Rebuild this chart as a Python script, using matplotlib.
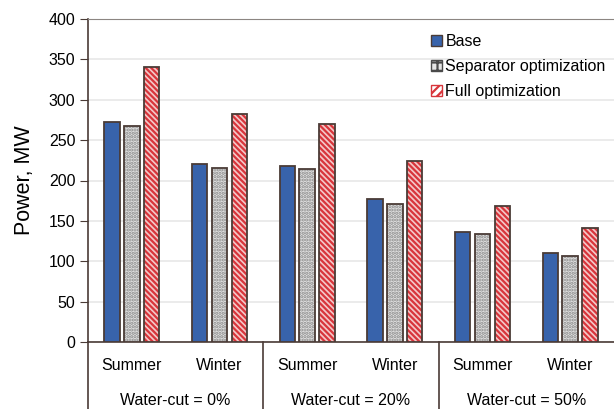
import matplotlib.pyplot as plt
import matplotlib.transforms as mtransforms
from matplotlib.patches import Patch
import numpy as np

plt.rcParams['font.family'] = ['Liberation Sans', 'DejaVu Sans']
plt.rcParams['hatch.linewidth'] = 1.6

seasons = ["Summer", "Winter", "Summer", "Winter", "Summer", "Winter"]
groups = ["Water-cut = 0%", "Water-cut = 20%", "Water-cut = 50%"]
base = [272, 221, 218, 177, 136, 110]
separator = [268, 215, 214, 171, 134, 107]
full = [341, 282, 270, 224, 168, 141]

edge = '#4a3b36'
fig = plt.figure(figsize=(6.14, 4.09), dpi=100)
ax = fig.add_axes([88 / 614, 1 - 342 / 409, 526 / 614, 323 / 409])

x = np.arange(len(seasons))
w = 0.175
step = 0.228

# Base
ax.bar(x - step, base, w, color='#3863ab', edgecolor=edge, linewidth=1.3, zorder=3)

# Separator optimization: dotted grey
ax.bar(x, separator, w, color='#e2e2e2', edgecolor='#8a8a8a', hatch='.....',
       linewidth=0, zorder=3)
ax.bar(x, separator, w, fill=False, edgecolor=edge, linewidth=1.3, zorder=4)

# Full optimization: red diagonal stripes
ax.bar(x + step, full, w, color='#f3c8c8', edgecolor='#d8353b', hatch='\\\\\\\\\\\\',
       linewidth=0, zorder=3)
ax.bar(x + step, full, w, fill=False, edgecolor=edge, linewidth=1.3, zorder=4)

handles = [
    Patch(facecolor='#3863ab', edgecolor=edge, label='Base'),
    Patch(facecolor='#e4e4e4', edgecolor='#4a4a4a', hatch='++', label='Separator optimization'),
    Patch(facecolor='white', edgecolor='#d8353b', hatch='////', label='Full optimization'),
]
ax.legend(handles=handles, loc='upper left', bbox_to_anchor=(0.64, 0.972),
          frameon=False, fontsize=11.5, handlelength=0.7, handleheight=0.7,
          handletextpad=0.2, labelspacing=0.62, borderaxespad=0)

ax.set_xlim(-0.5, len(seasons) - 0.5)
ax.set_ylim(0, 400)
ax.set_yticks(np.arange(0, 401, 50))
ax.tick_params(axis='y', labelsize=11.5, length=6, color=edge, direction='out', pad=3)
ax.set_xticks([])
ax.yaxis.grid(True, color='#e8e8e8', linewidth=1.2, zorder=0)
ax.set_axisbelow(True)

ax.spines['right'].set_visible(False)
ax.spines['top'].set_color('#8c8682')
ax.spines['left'].set_color(edge)
ax.spines['bottom'].set_color(edge)
ax.spines['left'].set_linewidth(1.2)
ax.spines['bottom'].set_linewidth(1.2)

ax.set_ylabel('Power, MW', fontsize=15.5, labelpad=10)

trans = mtransforms.blended_transform_factory(ax.transData, ax.transAxes)
for i, s in enumerate(seasons):
    ax.text(i, -0.072, s, transform=trans, ha='center', va='center', fontsize=11.5)
for j, g in enumerate(groups):
    ax.text(2 * j + 0.5, -0.18, g, transform=trans, ha='center', va='center', fontsize=11.5)
for k in range(len(groups)):
    ax.plot([2 * k - 0.5, 2 * k - 0.5], [0, -0.25], transform=trans,
            color=edge, linewidth=1.2, clip_on=False)

fig.savefig('out.png', dpi=100)
